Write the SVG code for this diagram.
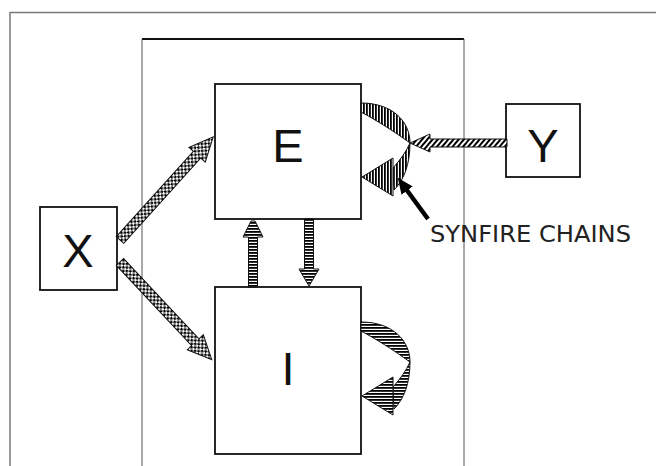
<svg xmlns="http://www.w3.org/2000/svg" width="656" height="466" viewBox="0 0 656 466">
<style>
.frame{fill:none;stroke:#777;stroke-width:1.5}
.inner{fill:none;stroke:#555;stroke-width:1}
.box{fill:#fff;stroke:#111;stroke-width:1.8}
.lbl{font-family:"Liberation Sans",Arial,sans-serif;font-size:47px;fill:#111;text-anchor:middle}
.note{font-family:"DejaVu Sans",Verdana,sans-serif;font-size:23px;fill:#222}
.chk{fill:url(#checker);stroke:#111;stroke-width:1}
.vs{fill:url(#vstripes);stroke:#111;stroke-width:1}
.hs{fill:url(#hstripes);stroke:#111;stroke-width:1}
.ds{fill:url(#dstripes);stroke:#111;stroke-width:1}
</style>
<defs>
<pattern id="checker" width="5" height="5" patternUnits="userSpaceOnUse">
<rect width="5" height="5" fill="#fff"/><rect width="2.5" height="2.5" fill="#000"/><rect x="2.5" y="2.5" width="2.5" height="2.5" fill="#000"/>
</pattern>
<pattern id="vstripes" width="3" height="3" patternUnits="userSpaceOnUse">
<rect width="3" height="3" fill="#fff"/><rect width="1.8" height="3" fill="#000"/>
</pattern>
<pattern id="hstripes" width="3" height="3" patternUnits="userSpaceOnUse">
<rect width="3" height="3" fill="#fff"/><rect width="3" height="1.8" fill="#000"/>
</pattern>
<pattern id="dstripes" width="4" height="4" patternUnits="userSpaceOnUse" patternTransform="rotate(40)">
<rect width="4" height="4" fill="#fff"/><rect width="2" height="4" fill="#000"/>
</pattern>
<marker id="blackhead" markerWidth="16" markerHeight="14" refX="2" refY="7" orient="auto" markerUnits="userSpaceOnUse">
<path d="M0,0 L16,7 L0,14 Z" fill="#000"/>
</marker>
</defs>

<g id="frame">
<line class="frame" x1="10" y1="12.5" x2="656" y2="12.5"/>
<line class="frame" x1="10" y1="12" x2="10" y2="466"/>
</g>
<g id="network">
<line x1="142" y1="39" x2="464" y2="39" stroke="#111" stroke-width="2"/>
<line class="inner" x1="142" y1="39" x2="142" y2="466"/>
<line class="inner" x1="464" y1="39" x2="464" y2="466"/>
</g>

<g id="node-E">
<rect class="box" x="215" y="84" width="146" height="135"/>
<text class="lbl" x="288" y="162">E</text>
</g>
<g id="node-I">
<rect class="box" x="215" y="287" width="146" height="167"/>
<text class="lbl" x="288" y="385">I</text>
</g>
<g id="node-X">
<rect class="box" x="40" y="207" width="77" height="83"/>
<text class="lbl" x="78" y="267">X</text>
</g>
<g id="node-Y">
<rect class="box" x="506" y="104" width="74" height="73"/>
<text class="lbl" x="543" y="162">Y</text>
</g>

<g id="connectors">
<!-- X to E -->
<polygon class="chk" transform="translate(120,240) rotate(-47.9)" points="0,-5 115,-5 115,-11 139,0 115,11 115,5 0,5"/>
<!-- X to I -->
<polygon class="chk" transform="translate(120,262) rotate(46.8)" points="0,-5 110,-5 110,-11 134,0 110,11 110,5 0,5"/>
<!-- Y to E -->
<polygon class="ds" points="507,139 430,139 430,134 410,143 430,152 430,147 507,147"/>
<!-- I to E (up) -->
<polygon class="hs" points="248.5,287 248.5,237 243,237 251,221 255,221 263,237 257.5,237 257.5,287"/>
<!-- E to I (down) -->
<polygon class="hs" points="304.5,219 304.5,269 299,269 309,286 319,269 313.5,269 313.5,219"/>
<!-- E synfire loop -->
<path class="vs" d="M361,103 C393,103 410,122 410,143 C392,130 376,120 361,112 Z"/>
<path class="vs" d="M410,143 C410,164 404,180 394,190 L393,168 C400,160 406,152 410,143 Z"/>
<path class="vs" d="M362,177 L393,158 L393,196 Z"/>
<!-- I loop -->
<path class="hs" d="M361,322 C393,322 410,341 410,362 C392,349 376,339 361,331 Z"/>
<path class="hs" d="M410,362 C410,383 404,399 394,409 L393,387 C400,379 406,371 410,362 Z"/>
<path class="hs" d="M362,396 L393,377 L393,415 Z"/>
<!-- pointer -->
<line x1="428" y1="219" x2="406" y2="189" stroke="#000" stroke-width="4.5" marker-end="url(#blackhead)"/>
</g>

<g id="label-synfire">
<text class="note" x="430" y="242" textLength="201" lengthAdjust="spacingAndGlyphs">SYNFIRE CHAINS</text>
</g>
</svg>
